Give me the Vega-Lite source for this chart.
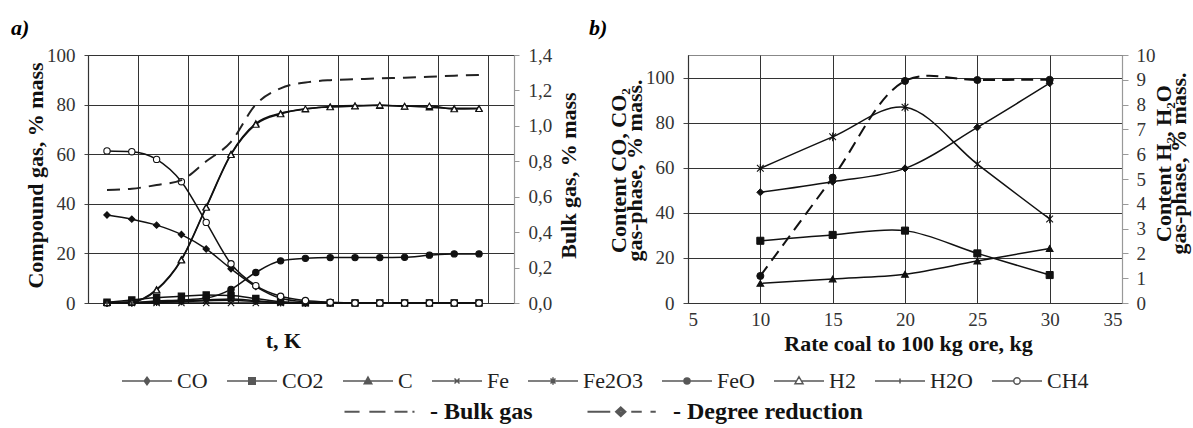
{
  "$schema": "https://vega.github.io/schema/vega-lite/v6.json",
  "padding": {"left": 10, "top": 16, "right": 25, "bottom": 5},
  "bounds": "flush",
  "spacing": 174,
  "background": "white",
  "config": {
    "font": "Liberation Serif",
    "view": {"stroke": "#888", "strokeWidth": 1},
    "axis": {
      "labelFont": "Liberation Serif", "labelFontSize": 19, "labelColor": "#333",
      "titleFont": "Liberation Serif", "titleFontSize": 22, "titleFontWeight": "bold", "titleColor": "#111",
      "gridColor": "#333", "gridWidth": 1, "gridOpacity": 1,
      "domainColor": "#333", "domainWidth": 1.2, "tickColor": "#444"
    }
  },
  "datasets": {
    "compound": [
      {"step": 0, "CO": 35.5, "CO2": 0.3, "C": 0.2, "Fe": 0, "Fe2O3": 0, "FeO": 0, "H2": 0.1, "H2O": 0, "CH4": 61.3, "bulk": 0.638},
      {"step": 1, "CO": 33.8, "CO2": 1.2, "C": 0.5, "Fe": 0, "Fe2O3": 0.1, "FeO": 0.2, "H2": 0.4, "H2O": 0, "CH4": 61.0, "bulk": 0.645},
      {"step": 2, "CO": 31.4, "CO2": 2.2, "C": 5.5, "Fe": 0, "Fe2O3": 0.4, "FeO": 0.8, "H2": 5.2, "H2O": 0.2, "CH4": 57.9, "bulk": 0.666},
      {"step": 3, "CO": 27.6, "CO2": 2.7, "C": 17.6, "Fe": 0, "Fe2O3": 0.8, "FeO": 1.2, "H2": 17.3, "H2O": 0.5, "CH4": 48.9, "bulk": 0.694},
      {"step": 4, "CO": 21.8, "CO2": 3.2, "C": 38.8, "Fe": 0, "Fe2O3": 1.2, "FeO": 2.0, "H2": 38.5, "H2O": 0.9, "CH4": 32.5, "bulk": 0.8},
      {"step": 5, "CO": 13.8, "CO2": 3.0, "C": 60.1, "Fe": 0, "Fe2O3": 1.6, "FeO": 5.5, "H2": 59.8, "H2O": 1.1, "CH4": 15.8, "bulk": 0.91},
      {"step": 6, "CO": 6.6, "CO2": 1.8, "C": 72.4, "Fe": 0, "Fe2O3": 0.9, "FeO": 12.3, "H2": 72.0, "H2O": 0.6, "CH4": 7.0, "bulk": 1.12},
      {"step": 7, "CO": 1.9, "CO2": 0.5, "C": 76.5, "Fe": 0, "Fe2O3": 0.2, "FeO": 17.0, "H2": 76.2, "H2O": 0.2, "CH4": 2.7, "bulk": 1.212},
      {"step": 8, "CO": 0.5, "CO2": 0.1, "C": 78.1, "Fe": 0, "Fe2O3": 0, "FeO": 18.0, "H2": 78.3, "H2O": 0, "CH4": 1.0, "bulk": 1.245},
      {"step": 9, "CO": 0.1, "CO2": 0, "C": 79.2, "Fe": 0, "Fe2O3": 0, "FeO": 18.3, "H2": 79.0, "H2O": 0, "CH4": 0.3, "bulk": 1.258},
      {"step": 10, "CO": 0, "CO2": 0, "C": 79.6, "Fe": 0, "Fe2O3": 0, "FeO": 18.3, "H2": 79.4, "H2O": 0, "CH4": 0, "bulk": 1.263},
      {"step": 11, "CO": 0, "CO2": 0, "C": 79.6, "Fe": 0, "Fe2O3": 0, "FeO": 18.3, "H2": 79.8, "H2O": 0, "CH4": 0, "bulk": 1.268},
      {"step": 12, "CO": 0, "CO2": 0, "C": 79.4, "Fe": 0, "Fe2O3": 0, "FeO": 18.4, "H2": 79.3, "H2O": 0, "CH4": 0, "bulk": 1.272},
      {"step": 13, "CO": 0, "CO2": 0, "C": 78.9, "Fe": 0, "Fe2O3": 0, "FeO": 19.3, "H2": 79.5, "H2O": 0, "CH4": 0, "bulk": 1.277},
      {"step": 14, "CO": 0, "CO2": 0, "C": 78.5, "Fe": 0, "Fe2O3": 0, "FeO": 19.8, "H2": 78.2, "H2O": 0, "CH4": 0, "bulk": 1.283},
      {"step": 15, "CO": 0, "CO2": 0, "C": 78.5, "Fe": 0, "Fe2O3": 0, "FeO": 19.8, "H2": 78.3, "H2O": 0, "CH4": 0, "bulk": 1.287}
    ],
    "rates": [
      {"rate": 10, "CO": 49.1, "CO2": 27.6, "Degree reduction": 12.0, "H2": 0.79, "H2O": 5.43},
      {"rate": 15, "CO": 53.8, "CO2": 30.2, "Degree reduction": 55.6, "H2": 0.97, "H2O": 6.7},
      {"rate": 20, "CO": 59.7, "CO2": 32.1, "Degree reduction": 98.5, "H2": 1.16, "H2O": 7.89},
      {"rate": 25, "CO": 77.9, "CO2": 22.0, "Degree reduction": 98.9, "H2": 1.69, "H2O": 5.6},
      {"rate": 30, "CO": 97.5, "CO2": 12.4, "Degree reduction": 99.0, "H2": 2.2, "H2O": 3.39}
    ]
  },
  "hconcat": [
    {
      "width": 426,
      "height": 248,
      "title": {"text": "a)", "anchor": "start", "frame": "group", "dx": -77, "offset": 6, "font": "Liberation Serif", "fontSize": 22, "fontStyle": "italic", "fontWeight": "bold", "color": "#000"},
      "layer": [
        {
          "data": {"name": "compound"},
          "transform": [{"fold": ["CO", "CO2", "C", "Fe", "Fe2O3", "FeO", "H2", "H2O", "CH4"], "as": ["series", "value"]}],
          "encoding": {
            "x": {"field": "step", "type": "quantitative", "scale": {"domain": [-0.766, 16.41], "nice": false, "zero": false},
              "axis": {"title": "t, K", "labels": false, "ticks": false, "values": [-0.766, 1.25, 3.27, 5.28, 7.3, 9.31, 11.33, 13.35, 15.36], "grid": true, "titleX": 195, "titleY": 37, "titleAlign": "center", "titleBaseline": "middle", "titleFontSize": 22}},
            "y": {"field": "value", "type": "quantitative", "scale": {"domain": [0, 100], "nice": false},
              "axis": {"title": "Compound gas, % mass", "values": [0, 20, 40, 60, 80, 100], "grid": true, "tickSize": 4, "labelPadding": 9, "titleAngle": 270, "titleX": -53, "titleY": 120, "titleAlign": "center", "titleBaseline": "middle"}}
          },
          "layer": [
            {"mark": {"type": "line", "interpolate": "monotone", "color": "#111", "strokeWidth": 1.5},
             "encoding": {"detail": {"field": "series"}}},
            {"mark": {"type": "point", "filled": true, "stroke": "#111", "strokeWidth": 1.1, "size": 40, "opacity": 1},
             "encoding": {
               "shape": {"field": "series", "type": "nominal", "legend": null,
                 "scale": {"domain": ["CO", "CO2", "C", "Fe", "Fe2O3", "FeO", "H2", "H2O", "CH4"],
                   "range": ["diamond", "square", "triangle-up", "M-1,-1L1,1M-1,1L1,-1", "M-1,-1L1,1M-1,1L1,-1M0,-1.3V1.3", "circle", "triangle-up", "M-0.7,0H0.7M0,-1V1", "circle"]}},
               "fill": {"field": "series", "type": "nominal", "legend": null,
                 "scale": {"domain": ["CO", "CO2", "C", "Fe", "Fe2O3", "FeO", "H2", "H2O", "CH4"],
                   "range": ["#111", "#111", "#111", "#111", "#111", "#111", "white", "#111", "white"]}}
             }}
          ]
        },
        {
          "data": {"name": "compound"},
          "mark": {"type": "line", "interpolate": "monotone", "color": "#222", "strokeWidth": 2, "strokeDash": [13, 8]},
          "encoding": {
            "x": {"field": "step", "type": "quantitative"},
            "y": {"field": "bulk", "type": "quantitative", "scale": {"domain": [0, 1.4], "nice": false},
              "axis": {"orient": "right", "title": "Bulk gas, % mass", "values": [0, 0.2, 0.4, 0.6, 0.8, 1.0, 1.2, 1.4],
                "labelExpr": "replace(format(datum.value, '.1f'), '.', ',')", "grid": false,
                "domainColor": "#999", "tickColor": "#999", "tickSize": 5, "labelPadding": 9,
                "titleAngle": 270, "titleX": 54, "titleY": 120, "titleAlign": "center", "titleBaseline": "middle"}}
          }
        },
        {
          "data": {"name": "compound"},
          "transform": [{"filter": "false"}],
          "mark": {"type": "point", "filled": false, "color": "#111", "strokeWidth": 1.5, "size": 2500},
          "encoding": {
            "shape": {"field": "series", "type": "nominal",
              "scale": {"domain": ["CO", "CO2", "C", "Fe", "Fe2O3", "FeO", "H2", "H2O", "CH4"],
                "range": [
                  "M-1,0H1M0,-0.15L0.11,0L0,0.15L-0.11,0ZM0,-0.08L0.055,0L0,0.08L-0.055,0Z",
                  "M-1,0H1M-0.13,-0.13H0.13V0.13H-0.13ZM-0.07,-0.07H0.07V0.07H-0.07ZM-0.02,-0.02H0.02V0.02H-0.02Z",
                  "M-1,0H1M0,-0.16L0.15,0.11L-0.15,0.11ZM0,-0.08L0.08,0.07L-0.08,0.07ZM0,-0.02L0.03,0.04L-0.03,0.04Z",
                  "M-1,0H1M-0.1,-0.1L0.1,0.1M-0.1,0.1L0.1,-0.1",
                  "M-1,0H1M-0.1,-0.1L0.1,0.1M-0.1,0.1L0.1,-0.1M0,-0.15V0.15",
                  "M-1,0H1M0.12,0A0.12,0.12,0,1,1,-0.12,0A0.12,0.12,0,1,1,0.12,0ZM0.065,0A0.065,0.065,0,1,1,-0.065,0A0.065,0.065,0,1,1,0.065,0ZM0.02,0A0.02,0.02,0,1,1,-0.02,0A0.02,0.02,0,1,1,0.02,0Z",
                  "M-1,0H-0.1M0.1,0H1M0,-0.17L0.16,0.11L-0.16,0.11Z",
                  "M-1,0H1M0,-0.1V0.1",
                  "M-1,0H-0.13M0.13,0H1M0.13,0A0.13,0.13,0,1,1,-0.13,0A0.13,0.13,0,1,1,0.13,0Z"
                ]},
              "legend": {"orient": "none", "legendX": 33, "legendY": 300, "direction": "horizontal", "columns": 9, "title": null,
                "symbolSize": 2500, "symbolStrokeWidth": 1.5, "symbolStrokeColor": "#111",
                "labelFont": "Liberation Serif", "labelFontSize": 22, "labelColor": "#222", "labelOffset": 4, "columnPadding": 16, "padding": 0, "labelLimit": 300}}
          }
        },
        {
          "data": {"name": "compound"},
          "transform": [{"filter": "false"}],
          "mark": {"type": "point", "filled": false, "color": "#111", "strokeWidth": 2.2, "size": 4900},
          "encoding": {
            "shape": {"field": "series", "type": "nominal",
              "scale": {"domain": ["- Bulk gas", "- Degree reduction"],
                "range": [
                  "M-1,0H-0.57M-0.29,0H0.17M0.43,0H0.8M0.94,0H1",
                  "M-1,0H-0.35M0.25,0H0.55M0.8,0H0.95M-0.05,-0.12L0.08,0L-0.05,0.12L-0.18,0ZM-0.05,-0.05L0.01,0L-0.05,0.05L-0.11,0Z"
                ]},
              "legend": {"orient": "none", "legendX": 255, "legendY": 320, "direction": "horizontal", "columns": 2, "title": null,
                "symbolSize": 4900, "symbolStrokeWidth": 2.2, "symbolStrokeColor": "#111",
                "labelFont": "Liberation Serif", "labelFontSize": 24, "labelFontWeight": "bold", "labelColor": "#111", "labelOffset": 14, "columnPadding": 50, "padding": 0, "labelLimit": 300}}
          }
        }
      ],
      "resolve": {"scale": {"y": "independent", "shape": "independent"}}
    },
    {
      "width": 434,
      "height": 248,
      "title": {"text": "b)", "anchor": "start", "frame": "group", "dx": -99, "offset": 6, "font": "Liberation Serif", "fontSize": 22, "fontStyle": "italic", "fontWeight": "bold", "color": "#000"},
      "layer": [
        {
          "data": {"name": "rates"},
          "transform": [{"fold": ["CO", "CO2", "Degree reduction"], "as": ["series", "value"]}],
          "encoding": {
            "x": {"field": "rate", "type": "quantitative", "scale": {"domain": [5, 35], "nice": false, "zero": false},
              "axis": {"title": "Rate coal to 100 kg ore, kg", "values": [5, 10, 15, 20, 25, 30, 35], "grid": true, "ticks": false, "labelPadding": 7,
                "titleX": 220, "titleY": 40, "titleAlign": "center", "titleBaseline": "middle", "titleFontSize": 22}},
            "y": {"field": "value", "type": "quantitative", "scale": {"domain": [0, 110], "nice": false},
              "axis": {"title": ["Content CO, CO₂", "gas-phase, % mass."], "values": [0, 20, 40, 60, 80, 100], "grid": true, "tickSize": 5, "labelPadding": 9,
                "titleAngle": 270, "titleX": -70, "titleY": 115, "titleAlign": "center", "titleBaseline": "middle", "titleLineHeight": 16}}
          },
          "layer": [
            {"transform": [{"filter": "datum.series !== 'Degree reduction'"}],
             "mark": {"type": "line", "interpolate": "catmull-rom", "color": "#111", "strokeWidth": 1.5},
             "encoding": {"detail": {"field": "series"}}},
            {"transform": [{"filter": "datum.series === 'Degree reduction'"}],
             "mark": {"type": "line", "interpolate": "catmull-rom", "color": "#111", "strokeWidth": 2, "strokeDash": [12, 7]}},
            {"mark": {"type": "point", "filled": true, "color": "#111", "stroke": "#111", "strokeWidth": 1, "size": 50, "opacity": 1},
             "encoding": {"shape": {"field": "series", "type": "nominal", "legend": null,
               "scale": {"domain": ["CO", "CO2", "Degree reduction"], "range": ["diamond", "square", "circle"]}}}}
          ]
        },
        {
          "data": {"name": "rates"},
          "transform": [{"fold": ["H2", "H2O"], "as": ["series", "value"]}],
          "encoding": {
            "x": {"field": "rate", "type": "quantitative"},
            "y": {"field": "value", "type": "quantitative", "scale": {"domain": [0, 10], "nice": false},
              "axis": {"orient": "right", "title": ["Content H₂, H₂O", "gas-phase, % mass."], "values": [0, 1, 2, 3, 4, 5, 6, 7, 8, 9, 10], "grid": false,
                "domainColor": "#999", "tickColor": "#999", "tickSize": 6, "labelPadding": 8,
                "titleAngle": 270, "titleX": 41, "titleY": 108, "titleAlign": "center", "titleBaseline": "middle", "titleLineHeight": 15}}
          },
          "layer": [
            {"mark": {"type": "line", "interpolate": "catmull-rom", "color": "#111", "strokeWidth": 1.5},
             "encoding": {"detail": {"field": "series"}}},
            {"mark": {"type": "point", "filled": true, "color": "#111", "stroke": "#111", "strokeWidth": 1.1, "size": 45, "opacity": 1},
             "encoding": {"shape": {"field": "series", "type": "nominal", "legend": null,
               "scale": {"domain": ["H2", "H2O"], "range": ["triangle-up", "M-1,-1L1,1M-1,1L1,-1M0,-1.3V1.3"]}}}}
          ]
        }
      ],
      "resolve": {"scale": {"y": "independent", "shape": "independent"}}
    }
  ]
}
